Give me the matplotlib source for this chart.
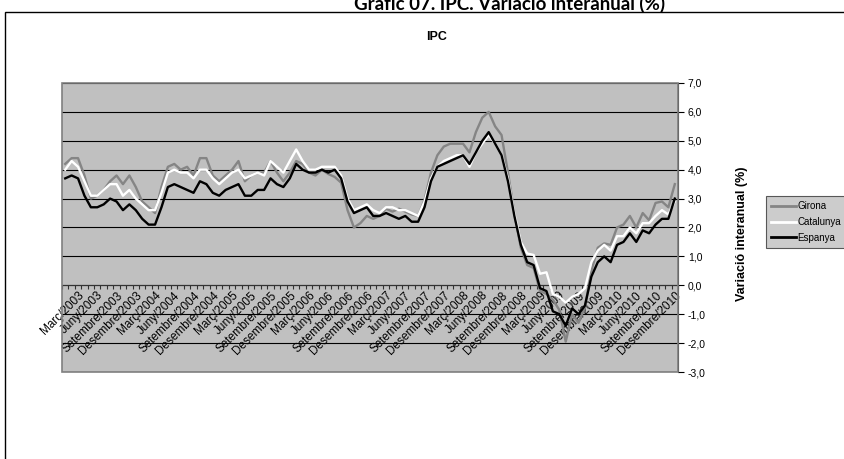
import numpy as np
import matplotlib
matplotlib.use("Agg")
import matplotlib.pyplot as plt
from matplotlib.patches import Rectangle
from matplotlib.ticker import FuncFormatter

plt.rcParams['font.family'] = ['Liberation Sans', 'DejaVu Sans']

# categories: gener/2003 .. desembre/2010
mesos = ['Gener', 'Febrer', 'Març', 'Abril', 'Maig', 'Juny', 'Juliol', 'Agost',
         'Setembre', 'Octubre', 'Novembre', 'Desembre']
anys = list(range(2003, 2011))
categories = [f'{m}/{a}' for a in anys for m in mesos]

girona = [4.2, 4.4, 4.4, 3.8, 3.0, 3.1, 3.3, 3.6, 3.8, 3.5, 3.8, 3.4,
          2.9, 2.7, 2.5, 3.4, 4.1, 4.2, 4.0, 4.1, 3.8, 4.4, 4.4, 3.8,
          3.6, 3.8, 4.0, 4.3, 3.6, 3.8, 3.9, 3.9, 4.3, 3.9, 3.6, 3.9,
          4.3, 4.2, 3.9, 3.8, 4.0, 3.85, 3.75, 3.55, 2.6, 2.0, 2.15, 2.4,
          2.3, 2.4, 2.65, 2.55, 2.65, 2.55, 2.45, 2.4, 2.95, 3.9, 4.5, 4.8,
          4.9, 4.9, 4.9, 4.6, 5.3, 5.8, 6.0, 5.5, 5.2, 3.9, 2.5, 1.3,
          0.7, 0.6, -0.2, -0.3, -0.5, -0.85, -1.95, -1.0, -1.3, -0.75, 0.5, 1.3,
          1.45, 1.4, 2.0, 2.1, 2.4, 2.0, 2.5, 2.25, 2.85, 2.9, 2.7, 3.5]

catalunya = [4.0, 4.3, 4.1, 3.6, 3.1, 3.1, 3.3, 3.5, 3.5, 3.1, 3.3, 3.0,
             2.8, 2.6, 2.6, 3.2, 3.9, 4.0, 3.9, 3.9, 3.7, 4.0, 4.0, 3.7,
             3.5, 3.7, 3.9, 4.0, 3.7, 3.8, 3.9, 3.8, 4.3, 4.1, 3.9, 4.3,
             4.7, 4.3, 4.0, 4.0, 4.1, 4.1, 4.1, 3.8, 3.0, 2.6, 2.7, 2.8,
             2.6, 2.5, 2.7, 2.7, 2.6, 2.6, 2.5, 2.4, 2.9, 3.7, 4.1, 4.3,
             4.4, 4.5, 4.5, 4.1, 4.6, 4.9, 5.2, 4.9, 4.5, 3.7, 2.5, 1.5,
             1.1, 1.05, 0.4, 0.45, -0.3, -0.4, -0.6, -0.4, -0.3, -0.1, 0.8, 1.2,
             1.4, 1.2, 1.7, 1.7, 2.0, 1.8, 2.15, 2.15, 2.4, 2.6, 2.45, 2.9]

espanya = [3.7, 3.8, 3.7, 3.1, 2.7, 2.7, 2.8, 3.0, 2.9, 2.6, 2.8, 2.6,
           2.3, 2.1, 2.1, 2.7, 3.4, 3.5, 3.4, 3.3, 3.2, 3.6, 3.5, 3.2,
           3.1, 3.3, 3.4, 3.5, 3.1, 3.1, 3.3, 3.3, 3.7, 3.5, 3.4, 3.7,
           4.2, 4.0, 3.9, 3.9, 4.0, 3.9, 4.0, 3.7, 2.9, 2.5, 2.6, 2.7,
           2.4, 2.4, 2.5, 2.4, 2.3, 2.4, 2.2, 2.2, 2.7, 3.6, 4.1, 4.2,
           4.3, 4.4, 4.5, 4.2, 4.6, 5.0, 5.3, 4.9, 4.5, 3.6, 2.4, 1.4,
           0.8, 0.7, -0.1, -0.2, -0.9, -1.0, -1.4, -0.8, -1.0, -0.7, 0.3, 0.8,
           1.0, 0.8, 1.4, 1.5, 1.8, 1.5, 1.9, 1.8, 2.1, 2.3, 2.3, 3.0]

W, H = 845, 459
fig = plt.figure(figsize=(W / 100, H / 100), dpi=100)

# marc exterior
fig.patches.append(Rectangle((5 / W, -0.1), 1.2, 1.1 - 12 / H, transform=fig.transFigure,
                             fill=False, edgecolor='black', lw=1.0))
fig.text(510 / W, 1 - 10 / H, 'Gràfic 07. IPC. Variació interanual (%)', ha='center',
         va='baseline', fontsize=13.5, fontweight='bold', family=['Lato', 'DejaVu Sans'])
fig.text(437 / W, 1 - 37 / H, 'IPC', ha='center', va='center', fontsize=9, fontweight='bold')

ax = fig.add_axes([62 / W, (H - 372) / H, 616 / W, 289 / H])
ax.set_facecolor('#c0c0c0')
x = np.arange(len(categories))

ax.plot(x, girona, color='#858585', lw=1.7, label='Girona', zorder=3)
ax.plot(x, catalunya, color='white', lw=1.7, label='Catalunya', zorder=4)
ax.plot(x, espanya, color='black', lw=1.7, label='Espanya', zorder=5)

ax.set_xlim(-0.5, len(categories) - 0.5)
ax.set_ylim(-3, 7)
ax.set_yticks(np.arange(-3, 8, 1))
ax.yaxis.set_major_formatter(FuncFormatter(lambda v, p: f'{v:.1f}'.replace('.', ',')))
ax.yaxis.tick_right()
ax.tick_params(axis='y', direction='out', length=4, width=0.8, labelsize=7.5, pad=3, colors='black')
ax.grid(axis='y', color='black', lw=0.8, zorder=1)

# eix de categories sobre el zero
ax.spines['bottom'].set_position(('data', 0))
ax.spines['bottom'].set_color('#333333')
ax.spines['bottom'].set_zorder(2)
for s in ['top', 'left']:
    ax.spines[s].set_visible(False)
ax.spines['right'].set_color('black')
ax.add_patch(Rectangle((0, 0), 1, 1, transform=ax.transAxes, fill=False,
                       edgecolor='#808080', lw=1.2, zorder=6, clip_on=False))

pos = [i for i, c in enumerate(categories) if c.split('/')[0] in ('Març', 'Juny', 'Setembre', 'Desembre')]
ax.set_xticks(pos)
ax.set_xticklabels([categories[i] for i in pos], rotation=45, ha='right',
                   rotation_mode='anchor', fontsize=8.5)
ax.tick_params(axis='x', which='major', length=0, pad=3)
ax.set_xticks(np.arange(-0.5, len(categories), 1), minor=True)
ax.tick_params(axis='x', which='minor', direction='out', length=3, width=0.8, color='#333333')

fig.text(742 / W, 225 / H, 'Variació interanual (%)', rotation=90, ha='center', va='center',
         fontsize=9, fontweight='bold')

leg = fig.legend(loc='center left', bbox_to_anchor=(766 / W, 1 - 222 / H), fontsize=7,
                 frameon=True, fancybox=False, handlelength=2.6, handletextpad=0.1,
                 borderpad=0.5, labelspacing=0.6, borderaxespad=0)
leg.get_frame().set_facecolor('#c0c0c0')
leg.get_frame().set_edgecolor('#333333')
leg.get_frame().set_linewidth(0.8)
for l in leg.get_lines():
    l.set_linewidth(2)

fig.savefig('out.png', dpi=100)
